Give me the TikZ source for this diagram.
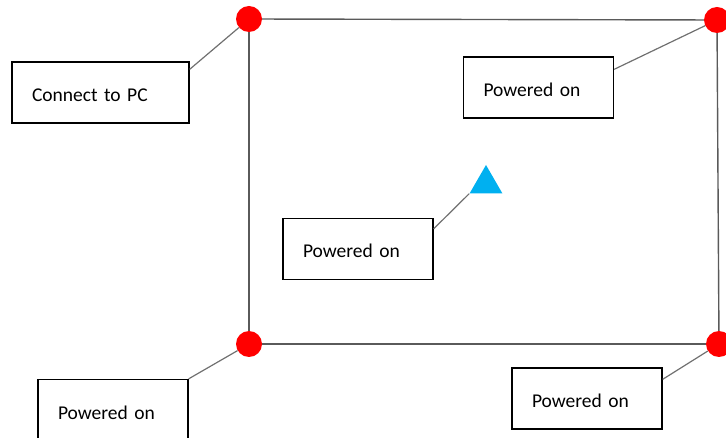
\documentclass[tikz,border=0pt]{standalone}
\usepackage{fontspec}
\setmainfont{Carlito}
\usetikzlibrary{shapes.geometric}

\definecolor{framegray}{HTML}{5A5A5A}
\definecolor{linkgray}{HTML}{707070}
\definecolor{dotred}{HTML}{FF0000}
\definecolor{tricyan}{HTML}{00B0F0}

\begin{document}
\begin{tikzpicture}[x=1pt,y=-1pt,
  dot/.style={circle,fill=dotred,minimum size=26pt,inner sep=0pt},
  tri/.style={regular polygon,regular polygon sides=3,fill=tricyan,minimum size=38pt,inner sep=0pt},
  box/.style={draw=black,line width=1.3pt,fill=white,minimum width=150pt,minimum height=61pt,
    inner xsep=20pt,text width=110pt,align=left,text height=18pt,text depth=0pt,
    font=\fontsize{19.5}{23}\selectfont},
  frame/.style={draw=framegray,line width=1.4pt},
  link/.style={draw=linkgray,line width=1.2pt}]
\useasboundingbox (0,0) rectangle (726,438);
% The four corners and the square between them
\node[dot] (tl) at (249,19) {};
\node[dot] (tr) at (717,20) {};
\node[dot] (bl) at (249,344) {};
\node[dot] (br) at (719,344) {};
\draw[frame] (tl) -- (tr);
\draw[frame] (tr) -- (br);
\draw[frame] (br) -- (bl);
\draw[frame] (bl) -- (tl);
\node[tri] (mid) at (486,184) {};
% Then the labels round it
\node[box,minimum width=177pt,text width=137pt] (pcbox) at (100.5,92.5) {Connect to PC};
\node[box] (trbox) at (538.5,87.5) {Powered on};
\node[box] (midbox) at (358,249) {Powered on};
\node[box] (blbox) at (113,410) {Powered on};
\node[box] (brbox) at (587,398.5) {Powered on};
% Lines from each label to its point
\draw[link] ([yshift=-8pt]pcbox.north east) -- (tl);
\draw[link] ([yshift=-13pt]trbox.north east) -- (tr);
\draw[link] ([yshift=-11pt]midbox.north east) -- (mid.corner 2);
\draw[link] (blbox.north east) -- (bl);
\draw[link] ([yshift=-12pt]brbox.north east) -- (br);
\end{tikzpicture}
\end{document}
